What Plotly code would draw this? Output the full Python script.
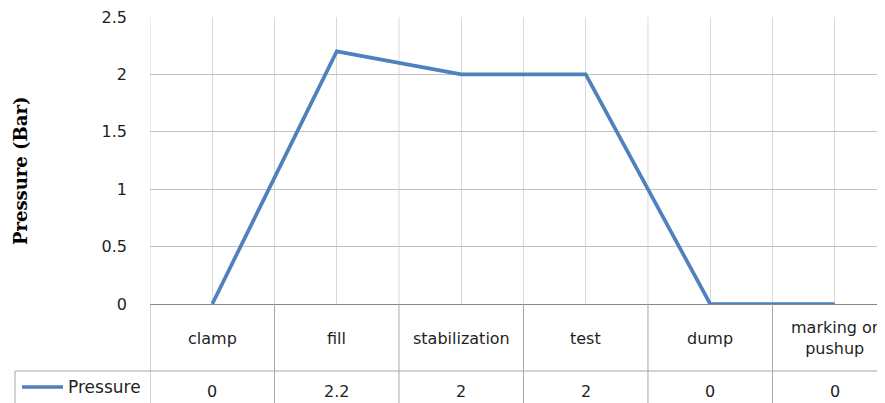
import plotly.graph_objects as go

# ---- data ----
categories = ["clamp", "fill", "stabilization", "test", "dump", "marking or pushup"]
category_labels = ["clamp", "fill", "stabilization", "test", "dump", "marking or<br>pushup"]
pressure = [0, 2.2, 2, 2, 0, 0]
series_name = "Pressure"
y_tickvals = [0, 0.5, 1, 1.5, 2, 2.5]
y_ticktext = ["0", "0.5", "1", "1.5", "2", "2.5"]
y_title = "Pressure (Bar)"

# ---- layout geometry (screen pixels; page body has an 8px default margin) ----
OFF = 8
SW, SH = 885, 403
PLOT_L, PLOT_R, PLOT_T, PLOT_B = 150, 885, 17, 304
W, H = SW - OFF, SH - OFF
L = PLOT_L - OFF
T = PLOT_T - OFF
B = H - (PLOT_B - OFF)
R = 0
plot_w = PLOT_R - PLOT_L
plot_h = PLOT_B - PLOT_T


def py(s):
    return (PLOT_B - s) / plot_h


def px(s):
    return (s - PLOT_L) / plot_w


LINE_COLOR = "#4F81BD"
FONT = "DejaVu Sans"
TXT = "#1f1f1f"
VGRID = "#d9d9d9"
HGRID = "#c0c0c0"
TABLE = "#a6a6a6"

fig = go.Figure()
fig.add_trace(go.Scatter(
    x=categories, y=pressure, mode="lines", name=series_name,
    line=dict(color=LINE_COLOR, width=3.7), showlegend=False,
))

shapes = []
n = len(categories)
# vertical gridlines at category boundaries
for i in range(n):
    shapes.append(dict(type="line", xref="x", yref="paper", x0=i - 0.5, x1=i - 0.5,
                       y0=0, y1=1, line=dict(color=VGRID, width=1), layer="below"))
# table: vertical lines at boundaries below the plot
for i in range(n):
    shapes.append(dict(type="line", xref="x", yref="paper", x0=i - 0.5, x1=i - 0.5,
                       y0=0, y1=py(SH + 5), line=dict(color=TABLE, width=1)))
# horizontal line between category row and series row
shapes.append(dict(type="line", xref="paper", yref="paper", x0=px(15), x1=1.0,
                   y0=py(371), y1=py(371), line=dict(color=TABLE, width=1)))
# legend cell left border
shapes.append(dict(type="line", xref="paper", yref="paper", x0=px(15), x1=px(15),
                   y0=py(371), y1=py(SH + 5), line=dict(color=TABLE, width=1)))
# legend key
shapes.append(dict(type="line", xref="paper", yref="paper", x0=px(22), x1=px(63),
                   y0=py(387), y1=py(387), line=dict(color=LINE_COLOR, width=3.7)))

annotations = []
for c, lab in zip(categories, category_labels):
    annotations.append(dict(x=c, xref="x", y=py(338), yref="paper", text=lab,
                            showarrow=False, xanchor="center", yanchor="middle",
                            font=dict(family=FONT, size=16, color=TXT)))
for c, v in zip(categories, pressure):
    annotations.append(dict(x=c, xref="x", y=py(391), yref="paper", text=f"{v:g}",
                            showarrow=False, xanchor="center", yanchor="middle",
                            font=dict(family=FONT, size=16, color=TXT)))
annotations.append(dict(x=px(66), xref="paper", y=py(387), yref="paper", text=series_name,
                        showarrow=False, xanchor="left", yanchor="middle",
                        font=dict(family=FONT, size=17, color=TXT)))
annotations.append(dict(x=px(20), xref="paper", y=py(171), yref="paper", text=y_title,
                        textangle=-90, showarrow=False, xanchor="center", yanchor="middle",
                        font=dict(family="DejaVu Serif", size=18, color="#000000", weight="bold")))

fig.update_layout(
    width=W, height=H,
    margin=dict(l=L, r=R, t=T, b=B, pad=0),
    paper_bgcolor="white", plot_bgcolor="white",
    shapes=shapes, annotations=annotations,
    xaxis=dict(type="category", categoryorder="array", categoryarray=categories,
               range=[-0.5, 5.404], showticklabels=False, ticks="",
               showgrid=True, gridcolor=VGRID, gridwidth=1, zeroline=False,
               showline=True, linecolor="#868686", linewidth=1),
    yaxis=dict(range=[0, 2.5], tickvals=y_tickvals, ticktext=y_ticktext,
               ticks="", ticklabelstandoff=22, ticklabeloverflow="allow",
               tickfont=dict(family=FONT, size=16, color=TXT),
               showgrid=True, gridcolor=HGRID, gridwidth=1, zeroline=False,
               showline=False),
)

fig.write_html("out.html")
